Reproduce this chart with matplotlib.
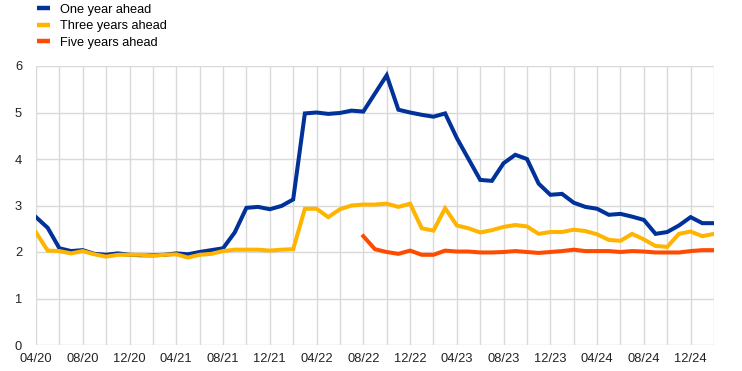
import matplotlib
matplotlib.use("Agg")
import matplotlib.pyplot as plt
from matplotlib.lines import Line2D
import numpy as np
import pandas as pd

plt.rcParams['font.family'] = ['Liberation Sans', 'DejaVu Sans']

months = pd.date_range("2020-04-01", "2025-02-01", freq="MS")

one_year = [2.75, 2.52, 2.08, 2.02, 2.04, 1.96, 1.94, 1.97, 1.94, 1.93,
            1.93, 1.94, 1.97, 1.95, 2.00, 2.04, 2.08, 2.42, 2.95, 2.97,
            2.92, 2.99, 3.13, 4.98, 5.00, 4.97, 4.99, 5.04, 5.02, 5.41,
            5.80, 5.06, 5.00, 4.95, 4.91, 4.98, 4.45, 4.00, 3.55, 3.53,
            3.91, 4.09, 4.00, 3.47, 3.23, 3.25, 3.06, 2.97, 2.93, 2.80,
            2.82, 2.76, 2.69, 2.39, 2.43, 2.57, 2.75, 2.62, 2.62]

three_years = [2.42, 2.03, 2.02, 1.97, 2.02, 1.95, 1.90, 1.94, 1.94, 1.94,
               1.92, 1.94, 1.95, 1.88, 1.94, 1.96, 2.02, 2.05, 2.05, 2.05,
               2.03, 2.05, 2.06, 2.93, 2.93, 2.75, 2.92, 3.00, 3.02, 3.02,
               3.04, 2.97, 3.04, 2.51, 2.46, 2.94, 2.57, 2.51, 2.42, 2.47,
               2.54, 2.58, 2.55, 2.39, 2.43, 2.43, 2.48, 2.45, 2.38, 2.26,
               2.24, 2.39, 2.27, 2.13, 2.11, 2.39, 2.44, 2.34, 2.39]

# five-year-ahead series starts in 08/22
five_years = [np.nan] * 28 + [2.34, 2.06, 2.00, 1.96, 2.03, 1.94, 1.94, 2.03,
                               2.01, 2.01, 1.99, 1.99, 2.00, 2.02, 2.00, 1.98,
                               2.00, 2.02, 2.05, 2.02, 2.02, 2.02, 2.00, 2.02,
                               2.01, 1.99, 1.99, 1.99, 2.02, 2.04, 2.04]

series_names = ["One year ahead", "Three years ahead", "Five years ahead"]
colors = ["#003299", "#FFB400", "#FF4B00"]

tick_labels = [m.strftime("%m/%y") for m in months]

fig = plt.figure(figsize=(7.42, 3.71), dpi=100)
ax = fig.add_axes([36/742, 1-345/371, (714-36)/742, (345-66)/371])

x = np.arange(len(months))
for vals, c in zip([one_year, three_years, five_years], colors):
    ax.plot(x, vals, color=c, lw=2.9, solid_joinstyle='miter', zorder=3)

ax.set_xlim(0, len(months) - 1)
ax.set_ylim(0, 6)
ax.set_yticks(range(0, 7))
ax.set_xticks(x[::2])
ax.set_xticklabels([tick_labels[i] if i % 4 == 0 else "" for i in x[::2]])
ax.grid(True, color="#d9d9d9", lw=1.0, zorder=0)
for s in ax.spines.values():
    s.set_visible(False)
ax.tick_params(length=0, labelsize=9.3, colors="#222222", pad=6)
ax.tick_params(axis='y', pad=10)

handles = [Line2D([], [], color=c, lw=3.2, solid_capstyle='butt') for c in colors]
fig.legend(handles, series_names, loc="upper left",
           bbox_to_anchor=(37/742, 1 - 3.5/371), frameon=False,
           fontsize=9.2, handlelength=1.0, handletextpad=0.8,
           labelspacing=0.36, borderpad=0, borderaxespad=0)

fig.savefig("out.png", dpi=100)
